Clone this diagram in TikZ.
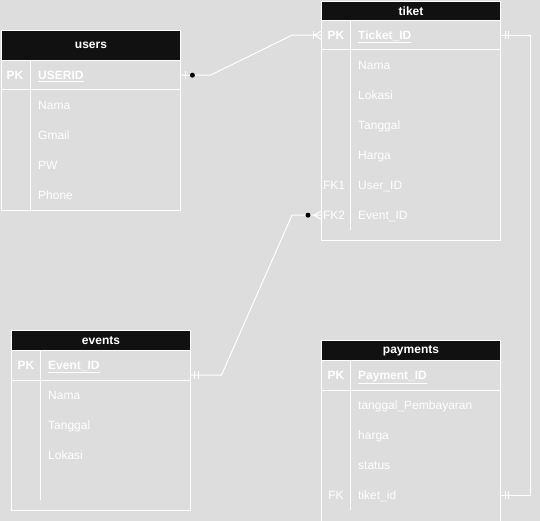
\documentclass[tikz,border=0pt]{standalone}
\usepackage{fontspec}
\setmainfont{Liberation Sans}
\usetikzlibrary{calc}
\definecolor{bg}{HTML}{DDDDDD}
\definecolor{hd}{HTML}{111111}
\tikzset{
 hdr/.style={fill=hd, draw=white, line width=1pt, text=white, font=\bfseries\fontsize{12}{14}\selectfont, inner sep=0, anchor=north west},
 tbl/.style={draw=white, line width=1pt, inner sep=0, anchor=north west},
 rowbox/.style={inner sep=0, anchor=north west, minimum height=30pt},
 keytxt/.style={text=white, font=\bfseries\fontsize{12}{14}\selectfont, inner sep=0, anchor=base},
 fldtxt/.style={text=white, font=\fontsize{12}{14}\selectfont, inner sep=0, anchor=base west},
 pktxt/.style={text=white, font=\bfseries\fontsize{12}{14}\selectfont, inner sep=0, anchor=base west},
 conn/.style={draw=white, line width=1pt},
 wline/.style={draw=white, line width=1pt},
}
\begin{document}
\begin{tikzpicture}[x=1pt,y=-1pt]
\fill[bg] (0,0) rectangle (540,521);
\useasboundingbox (0,0) rectangle (540,521);
\begin{scope}
\clip (0,0) rectangle (540,521);
% ---------- users ----------
\node[hdr, minimum width=179pt, minimum height=30pt] (users) at (1,30) {users};
\node[tbl, minimum width=179pt, minimum height=150pt] (usersbody) at (1,60) {};
\draw[wline] (1,90) -- (180,90);
\draw[wline] (30,60) -- (30,210);
\node[rowbox, minimum width=179pt] (u-id) at (1,60) {};
\node[keytxt] (u-pk) at (15,79.3) {PK};
\node[pktxt] (u-idt) at (38,79.3) {\underline{USERID}};
\node[fldtxt] (u-nama) at (38,109.3) {Nama};
\node[fldtxt] (u-gmail) at (38,139.3) {Gmail};
\node[fldtxt] (u-pw) at (38,169.3) {PW};
\node[fldtxt] (u-phone) at (38,199.3) {Phone};
% ---------- tiket ----------
\node[hdr, minimum width=179pt, minimum height=19pt] (tiket) at (321,1) {tiket};
\node[tbl, minimum width=179pt, minimum height=220pt] (tiketbody) at (321,20) {};
\draw[wline] (321,50) -- (500,50);
\draw[wline] (350,20) -- (350,230);
\node[rowbox, minimum width=179pt] (t-id) at (321,20) {};
\node[rowbox, minimum width=179pt] (t-eid) at (321,200) {};
\node[keytxt] (t-pk) at (336,39.3) {PK};
\node[pktxt] (t-idt) at (358,39.3) {\underline{Ticket\_ID}};
\node[fldtxt] (t-nama) at (358,69.3) {Nama};
\node[fldtxt] (t-lok) at (358,99.3) {Lokasi};
\node[fldtxt] (t-tgl) at (358,129.3) {Tanggal};
\node[fldtxt] (t-hrg) at (358,159.3) {Harga};
\node[keytxt, font=\fontsize{12}{14}\selectfont] (t-fk1) at (334,189.3) {FK1};
\node[fldtxt] (t-uid) at (358,189.3) {User\_ID};
\node[keytxt, font=\fontsize{12}{14}\selectfont] (t-fk2) at (334,219.3) {FK2};
\node[fldtxt] (t-eidt) at (358,219.3) {Event\_ID};
% ---------- events ----------
\node[hdr, minimum width=179pt, minimum height=20pt] (events) at (11,330) {events};
\node[tbl, minimum width=179pt, minimum height=160pt] (eventsbody) at (11,350) {};
\draw[wline] (11,380) -- (190,380);
\draw[wline] (40,350) -- (40,500);
\node[rowbox, minimum width=179pt, minimum height=40pt] (e-id) at (11,350) {};
\node[keytxt] (e-pk) at (26,369.3) {PK};
\node[pktxt] (e-idt) at (48,369.3) {\underline{Event\_ID}};
\node[fldtxt] (e-nama) at (48,399.3) {Nama};
\node[fldtxt] (e-tgl) at (48,429.3) {Tanggal};
\node[fldtxt] (e-lok) at (48,459.3) {Lokasi};
% ---------- payments ----------
\node[hdr, minimum width=179pt, minimum height=20pt] (payments) at (321,340) {payments};
\node[tbl, minimum width=179pt, minimum height=170pt] (paybody) at (321,360) {};
\draw[wline] (321,390) -- (500,390);
\draw[wline] (350,360) -- (350,510);
\node[rowbox, minimum width=179pt] (p-tid) at (321,480) {};
\node[keytxt] (p-pk) at (336,379.3) {PK};
\node[pktxt] (p-idt) at (358,379.3) {\underline{Payment\_ID}};
\node[fldtxt] (p-tgl) at (358,409.3) {tanggal\_Pembayaran};
\node[fldtxt] (p-hrg) at (358,439.3) {harga};
\node[fldtxt] (p-st) at (358,469.3) {status};
\node[keytxt, font=\fontsize{12}{14}\selectfont] (p-fk) at (336,499.3) {FK};
\node[fldtxt] (p-tidt) at (358,499.3) {tiket\_id};
% ---------- connectors ----------
% users -> tiket
\coordinate (c1a) at ($(u-id.east)+(30,0)$);
\coordinate (c1b) at ($(t-id.west)+(-29,0)$);
\draw[conn] (u-id.east) -- (c1a) -- (c1b) -- (t-id.west);
\draw[wline] ($(u-id.east)+(5,-4)$) -- ++(0,8);
\fill[black] ($(u-id.east)+(12,0)$) circle (2.5pt);
\draw[wline] ($(t-id.west)+(-8,-4)$) -- ++(0,8);
\draw[wline] ($(t-id.west)+(0,-4)$) -- ($(t-id.west)+(-7,0)$) -- ($(t-id.west)+(0,4)$);
% tiket -> events
\coordinate (c2e) at ($(e-id.east)+(0,5)$);
\coordinate (c2a) at ($(t-eid.west)+(-29,0)$);
\coordinate (c2b) at ($(c2e)+(31,0)$);
\draw[conn] (t-eid.west) -- (c2a) -- (c2b) -- (c2e);
\fill[black] ($(t-eid.west)+(-13,0)$) circle (2.5pt);
\draw[wline] ($(t-eid.west)+(0,-4)$) -- ($(t-eid.west)+(-7,0)$) -- ($(t-eid.west)+(0,4)$);
\draw[wline] ($(c2e)+(4,-4)$) -- ++(0,8);
\draw[wline] ($(c2e)+(8,-4)$) -- ++(0,8);
% tiket -> payments
\coordinate (c3a) at ($(t-id.east)+(30,0)$);
\coordinate (c3b) at ($(p-tid.east)+(30,0)$);
\draw[conn] (t-id.east) -- (c3a) -- (c3b) -- (p-tid.east);
\draw[wline] ($(t-id.east)+(5,-4)$) -- ++(0,8);
\draw[wline] ($(t-id.east)+(8,-4)$) -- ++(0,8);
\draw[wline] ($(p-tid.east)+(5,-4)$) -- ++(0,8);
\draw[wline] ($(p-tid.east)+(8,-4)$) -- ++(0,8);
\end{scope}
\end{tikzpicture}
\end{document}
